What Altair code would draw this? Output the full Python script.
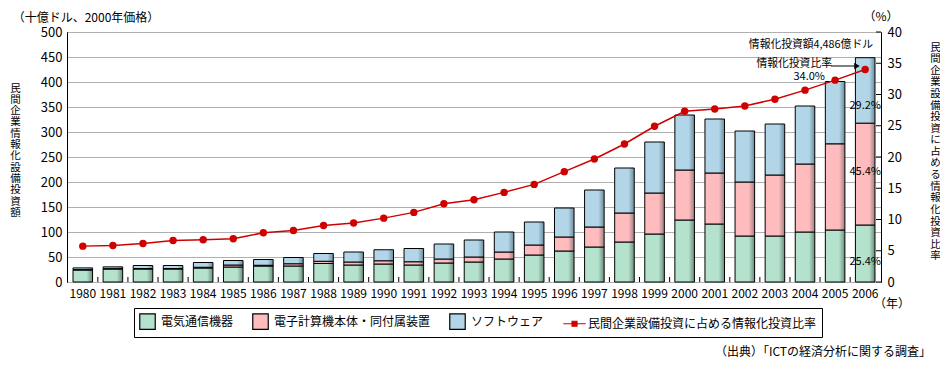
import altair as alt
import pandas as pd

# ---------------- data ----------------
years = [str(y) for y in range(1980, 2007)]
telecom = [24, 26, 26, 26, 28, 30, 32, 32, 37, 34, 36, 34, 38, 40, 46, 54, 62, 70, 80,
           96, 124, 116, 92, 92, 100, 104, 114.0]
computers = [0.8, 0.8, 1, 1, 1.5, 4, 1.5, 4.5, 4.5, 6, 6.5, 6.5, 8, 10, 14, 20, 28, 40, 58,
             82, 100, 102, 108, 122, 136, 172.4, 203.7]
software = [3.4, 3.5, 6, 6, 9.5, 9, 11.5, 12.5, 15.5, 20, 22, 26.5, 30, 34, 40, 46, 58, 74, 90,
            102, 110, 108, 102, 102, 116, 124.6, 130.9]
ratio = [5.74, 5.85, 6.17, 6.65, 6.76, 6.92, 7.88, 8.25, 9.05, 9.45, 10.22, 11.14, 12.53, 13.17,
         14.34, 15.62, 17.66, 19.68, 22.08, 24.92, 27.32, 27.69, 28.17, 29.25, 30.7, 32.3, 34.0]

series_names = ["電気通信機器", "電子計算機本体・同付属装置", "ソフトウェア"]
line_name = "民間企業設備投資に占める情報化投資比率"
left_title = "民間企業情報化設備投資額"
left_ticks = list(range(0, 501, 50))
right_ticks = list(range(0, 41, 5))

# ---------------- style ----------------
FONT = "Noto Sans CJK JP"
W, H = 814, 250
RED = "#d00000"
fills = ["#b4e2cc", "#ffbcbf", "#b2d6e8"]
darks = ["#6c8c7c", "#a08082", "#6e8c9c"]


def grad(c, d):
    return {"gradient": "linear", "x1": 0, "y1": 0, "x2": 1, "y2": 0,
            "stops": [{"offset": 0, "color": c}, {"offset": 0.7, "color": c},
                      {"offset": 1, "color": d}]}


rows = []
for i, yr in enumerate(years):
    arrs = [telecom[i], computers[i], software[i]]
    tot = sum(arrs)
    for k, name in enumerate(series_names):
        rows.append({"year": yr, "series": name, "order": k, "value": arrs[k],
                     "pct": f"{arrs[k] / tot * 100:.1f}%"})
bars_df = pd.DataFrame(rows)
ratio_df = pd.DataFrame({"year": years, "ratio": ratio})
total_2006 = telecom[-1] + computers[-1] + software[-1]

x_enc = alt.X("year:O", sort=years,
              scale=alt.Scale(domain=years, paddingInner=0.35, paddingOuter=0.2),
              axis=alt.Axis(title=None, labelAngle=0, ticks=False, domain=False,
                            labelFontSize=12, labelPadding=6, grid=False))

left_scale = alt.Scale(domain=[0, 500], nice=False)
right_scale = alt.Scale(domain=[0, 40], nice=False)

left_axis = alt.Axis(values=left_ticks, grid=True, gridColor="#b0b0b0", ticks=False,
                     labelFontSize=13, labelPadding=5, domainColor="black",
                     title=list(left_title), titleAngle=0, titleX=-52, titleY=51,
                     titleAlign="center", titleBaseline="top", titleFontSize=10.5,
                     titleLineHeight=11.3, titleFontWeight="normal")
right_axis = alt.Axis(orient="right", values=right_ticks, grid=False, ticks=False,
                      labelFontSize=13, labelPadding=6, domainColor="black",
                      title=list(line_name), titleAngle=0, titleX=54, titleY=10,
                      titleAlign="center", titleBaseline="top", titleFontSize=10.5,
                      titleLineHeight=11.6, titleFontWeight="normal")

base = alt.Chart(bars_df).transform_stack(
    stack="value", as_=["v0", "v1"], groupby=["year"],
    sort=[alt.SortField("order", order="ascending")])

layers = []
for k, name in enumerate(series_names):
    layers.append(
        base.transform_filter(alt.datum.series == name)
        .mark_bar(fill=grad(fills[k], darks[k]), stroke="black", strokeWidth=1)
        .encode(x=x_enc,
                y=alt.Y("v0:Q", scale=left_scale, axis=left_axis if k == 0 else None),
                y2="v1:Q"))

# percentage labels on the 2006 bar
label_dy = [8, -2, 16]
for k, name in enumerate(series_names):
    layers.append(
        base.transform_filter((alt.datum.series == name) & (alt.datum.year == years[-1]))
        .transform_calculate(mid="(datum.v0 + datum.v1) / 2")
        .mark_text(fontSize=11, dy=label_dy[k], color="black")
        .encode(x=x_enc, y=alt.Y("mid:Q", scale=left_scale, axis=None), text="pct:N"))

# line + points (right axis)
layers.append(alt.Chart(ratio_df).mark_line(color=RED, strokeWidth=1.5).encode(
    x=x_enc, y=alt.Y("ratio:Q", scale=right_scale, axis=right_axis)))
layers.append(alt.Chart(ratio_df).mark_point(filled=True, color=RED, size=55, opacity=1).encode(
    x=x_enc, y=alt.Y("ratio:Q", scale=right_scale, axis=None)))

# inward ticks
layers.append(alt.Chart(pd.DataFrame({"t": right_ticks})).mark_rule(color="black").encode(
    y=alt.Y("t:Q", scale=right_scale, axis=None), x=alt.value(W - 5), x2=alt.value(W)))
layers.append(alt.Chart(pd.DataFrame({"year": years[1:]})).mark_rule(
    color="black", xOffset=-15.05).encode(x=x_enc, y=alt.value(H - 5), y2=alt.value(H)))

# legend (empty layer carrying merged color/shape/stroke scales)
all_names = series_names + [line_name]
leg = alt.Legend(title=None, orient="none", legendX=67, legendY=276, direction="horizontal",
                 strokeColor="black", padding=5, symbolSize=240, symbolStrokeWidth=1.2,
                 labelFontSize=12, labelFont=FONT, labelOffset=5, columnPadding=16,
                 labelColor="black", symbolOpacity=1, fillColor="white", labelLimit=400)
line_sym = "M-1.45,0H1.45M-0.32,-0.32H0.32V0.32H-0.32Z"
layers.append(
    alt.Chart(pd.DataFrame({"series": all_names})).transform_filter("false")
    .mark_point(filled=True)
    .encode(color=alt.Color("series:N", scale=alt.Scale(domain=all_names, range=fills + [RED]), legend=leg),
            shape=alt.Shape("series:N", scale=alt.Scale(domain=all_names, range=["square"] * 3 + [line_sym]), legend=leg),
            stroke=alt.Stroke("series:N", scale=alt.Scale(domain=all_names, range=["black"] * 3 + [RED]), legend=leg)))

# annotations
one = pd.DataFrame({"k": [0]})


def txt(s, x, y, align="center", size=12.5):
    return alt.Chart(one).mark_text(text=s, align=align, baseline="middle", fontSize=size,
                                    color="black").encode(x=alt.value(x), y=alt.value(y))


layers += [
    txt("（十億ドル、2000年価格）", 19, -14, size=12),
    txt("（%）", 814, -15, size=12),
    txt("（年）", 825, 272, size=12),
    txt("（出典）「ICTの経済分析に関する調査」", 864, 320, align="right", size=12),
    txt(f"情報化投資額{total_2006 * 10:,.0f}億ドル", 806, 13, align="right", size=10.8),
    txt("情報化投資比率", 765, 32, align="right", size=10.8),
    txt(f"{ratio[-1]:.1f}%", 758, 45, align="right", size=11),
    alt.Chart(one).mark_rule(color="black", strokeWidth=1).encode(
        x=alt.value(764), x2=alt.value(788), y=alt.value(34)),
    alt.Chart(one).mark_point(shape="triangle-right", filled=True, color="black", size=40, opacity=1).encode(
        x=alt.value(790), y=alt.value(34)),
]

chart = alt.layer(*layers).resolve_scale(y="independent").properties(
    width=W, height=H,
    autosize=alt.AutoSizeParams(type="none"),
    padding={"left": 59, "top": 24, "right": 59, "bottom": 76},
).configure_view(stroke="black", strokeWidth=1).configure_axis(
    labelFont=FONT, titleFont=FONT, labelColor="black", titleColor="black"
).configure_text(font=FONT).configure_legend(labelFont=FONT)

chart.save("out.html", embed_options={"renderer": "svg", "actions": False})
